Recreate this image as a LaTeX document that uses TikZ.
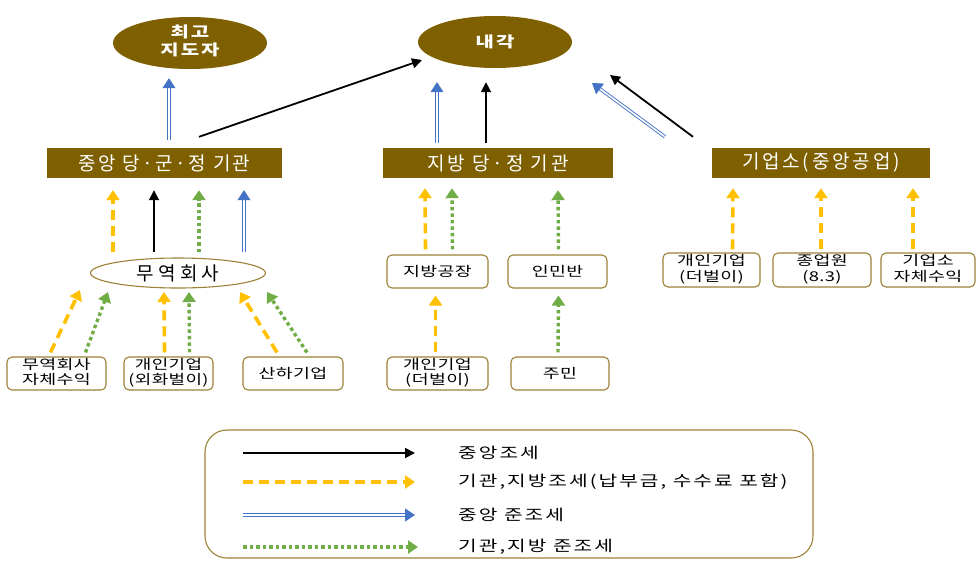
\documentclass[tikz,border=0pt]{standalone}
\usepackage{fontspec}
\usepackage{graphicx}
\setmainfont{Noto Sans CJK KR}
\newfontfamily\hdrA{Noto Sans CJK KR}[LetterSpace=13]
\newfontfamily\hdrB{Noto Sans CJK KR}[LetterSpace=15]
\newfontfamily\topf{Noto Sans CJK KR}[LetterSpace=10]
\newfontfamily\trf{Noto Sans CJK KR}[LetterSpace=22]
\newfontfamily\srcf{Noto Sans CJK KR}[LetterSpace=2]
\newfontfamily\legf{Noto Sans CJK KR}[LetterSpace=10]
\newcommand\wtxt[2]{\scalebox{#1}[1]{\begin{tabular}{@{}c@{}}#2\end{tabular}}}
\newcommand\wone[2]{\scalebox{#1}[1]{#2}}
\usetikzlibrary{arrows.meta,shapes.geometric}
\definecolor{olv}{HTML}{7F6000}
\definecolor{olvb}{HTML}{9C8236}
\definecolor{org}{HTML}{FFC000}
\definecolor{grn}{HTML}{70AD47}
\definecolor{blu}{HTML}{4472C4}
\tikzset{
  topell/.style={ellipse, fill=olv, text=white, minimum width=154pt, minimum height=52pt, inner sep=0pt, align=center, font=\topf\fontsize{15}{18}\selectfont\bfseries},
  hdr/.style={rectangle, fill=olv, text=white, minimum height=30pt, inner sep=0pt, font=\fontsize{19}{21}\selectfont},
  tradeell/.style={ellipse, draw=olvb, line width=1.1pt, fill=white, minimum width=175pt, minimum height=30pt, inner sep=0pt, font=\trf\fontsize{19}{21}\selectfont},
  src/.style={rectangle, rounded corners=5pt, draw=olvb, line width=1.1pt, fill=white, minimum height=33pt, inner sep=0pt, align=center, font=\srcf\fontsize{13.5}{14.5}\selectfont},
  legbox/.style={rectangle, rounded corners=22pt, draw=olvb, line width=1.1pt, minimum width=608pt, minimum height=128pt, inner sep=0pt},
  legtxt/.style={anchor=west, inner sep=0pt, font=\legf\fontsize{15}{17}\selectfont},
  blkA/.style={draw=black, line width=1.8pt, -{Triangle[length=10pt,width=10pt]}},
  orgA/.style={draw=org, line width=3.6pt, dash pattern=on 10pt off 6pt, -{Triangle[length=10pt,width=13pt]}},
  grnA/.style={draw=grn, line width=3.4pt, dash pattern=on 3.5pt off 3pt, -{Triangle[length=10pt,width=13pt]}},
  bluA/.style={draw=blu, line width=0.9pt, double=white, double distance=1.6pt, -{Triangle[length=10pt,width=13pt,fill=blu]}},
}
\begin{document}
\begin{tikzpicture}[x=1pt,y=-1pt]
\useasboundingbox (0,0) rectangle (977,560);
% top level
\node[topell] (sup) at (190,43) {\wtxt{1.33}{최고\\지도자}};
\node[topell] (cab) at (495,42) {\wone{1.33}{내각}};
% headers
\node[hdr, minimum width=235pt] (mid) at (164.5,163) {\hdrA 중앙 당·군·정 기관};
\node[hdr, minimum width=230pt] (loc) at (498,163) {\hdrB 지방 당·정 기관};
\node[hdr, minimum width=218pt] (ent) at (821,163) {\hdrB 기업소(중앙공업)};
% central branch
\node[tradeell] (trade) at (178,273) {무역회사};
\node[src, minimum width=99pt] (b1) at (56.5,373.5) {\wtxt{1.36}{무역회사\\자체수익}};
\node[src, minimum width=89pt] (b2) at (168.5,373.5) {\wtxt{1.33}{개인기업\\(외화벌이)}};
\node[src, minimum width=100pt] (b3) at (293,373.5) {\wone{1.36}{산하기업}};
% local branch
\node[src, minimum width=101pt] (fac) at (437.5,271.5) {\wone{1.36}{지방공장}};
\node[src, minimum width=99pt] (inm) at (557.5,271.5) {\wone{1.36}{인민반}};
\node[src, minimum width=101pt] (b4) at (437.5,373.5) {\wtxt{1.36}{개인기업\\(더벌이)}};
\node[src, minimum width=98pt] (b5) at (560,373.5) {\wone{1.36}{주민}};
% enterprise branch
\node[src, minimum width=97pt, minimum height=34pt] (c1) at (711.5,270) {\wtxt{1.36}{개인기업\\(더벌이)}};
\node[src, minimum width=98pt, minimum height=34pt] (c2) at (822,270) {\wtxt{1.36}{종업원\\(8.3)}};
\node[src, minimum width=94pt, minimum height=34pt] (c3) at (928,270) {\wtxt{1.36}{기업소\\자체수익}};

% arrows to top
\draw[bluA] ([shift={(4.5,-8)}]mid.north) -- ([shift={(-21,9)}]sup.south);
\draw[blkA] ([shift={(34.5,-11)}]mid.north) -- ([shift={(-73,18)}]cab.center);
\draw[bluA] ([shift={(-61,-5)}]loc.north) -- ([shift={(-58,14)}]cab.south);
\draw[blkA] ([shift={(-12,-5)}]loc.north) -- ([shift={(-9,14)}]cab.south);
\draw[bluA] ([shift={(-156,-11)}]ent.north) -- ([shift={(97,41)}]cab.center);
\draw[blkA] ([shift={(-128,-11)}]ent.north) -- ([shift={(115,33)}]cab.center);

% trade company to central header
\draw[orgA] ([shift={(-65,-21)}]trade.center) -- ([shift={(-51.5,12)}]mid.south);
\draw[blkA] ([shift={(-24,-21)}]trade.center) -- ([shift={(-10.5,12)}]mid.south);
\draw[grnA] ([shift={(21,-21)}]trade.center) -- ([shift={(34.5,12)}]mid.south);
\draw[bluA] ([shift={(66,-21)}]trade.center) -- ([shift={(79.5,12)}]mid.south);

% sources to trade company
\draw[orgA] ([shift={(-6,-4)}]b1.north) -- ([shift={(-98,17)}]trade.center);
\draw[grnA] ([shift={(29,-4)}]b1.north) -- ([shift={(-70,19)}]trade.center);
\draw[orgA] ([shift={(-4,-4)}]b2.north) -- ([shift={(-14,19)}]trade.center);
\draw[grnA] ([shift={(21,-4)}]b2.north) -- ([shift={(11,19)}]trade.center);
\draw[orgA] ([shift={(-16,-4)}]b3.north) -- ([shift={(62,19)}]trade.center);
\draw[grnA] ([shift={(14,-4)}]b3.north) -- ([shift={(89,19)}]trade.center);

% local branch arrows
\draw[orgA] ([shift={(-12,-5)}]fac.north) -- ([shift={(-73,10)}]loc.south);
\draw[grnA] ([shift={(15,-5)}]fac.north) -- ([shift={(-46,10)}]loc.south);
\draw[grnA] ([shift={(1,-5)}]inm.north) -- ([shift={(60,12)}]loc.south);
\draw[orgA] ([shift={(-2,-4)}]b4.north) -- ([shift={(-2,7)}]fac.south);
\draw[grnA] ([shift={(-2,-4)}]b5.north) -- ([shift={(1,7)}]inm.south);

% enterprise arrows
\draw[orgA] ([shift={(21,-3)}]c1.north) -- ([shift={(-88,10)}]ent.south);
\draw[orgA] ([shift={(-1,-3)}]c2.north) -- ([shift={(0,10)}]ent.south);
\draw[orgA] ([shift={(-15,-3)}]c3.north) -- ([shift={(92,10)}]ent.south);

% legend
\node[legbox] (leg) at (509,494) {};
\coordinate (l1a) at (243,453); \coordinate (l1b) at (415,453);
\coordinate (l2a) at (243,482); \coordinate (l2b) at (415,482);
\coordinate (l3a) at (243,515); \coordinate (l3b) at (415,515);
\coordinate (l4a) at (243,547); \coordinate (l4b) at (418,547);
\draw[blkA] (l1a) -- (l1b);
\draw[orgA] (l2a) -- (l2b);
\draw[bluA] (l3a) -- (l3b);
\draw[grnA] (l4a) -- (l4b);
\node[legtxt] (t1) at (458,453) {\wone{1.35}{중앙조세}};
\node[legtxt] (t2) at (458,482) {\wone{1.35}{기관,지방조세(납부금, 수수료 포함)}};
\node[legtxt] (t3) at (458,515) {\wone{1.35}{중앙 준조세}};
\node[legtxt] (t4) at (458,547) {\wone{1.35}{기관,지방 준조세}};
\end{tikzpicture}
\end{document}
